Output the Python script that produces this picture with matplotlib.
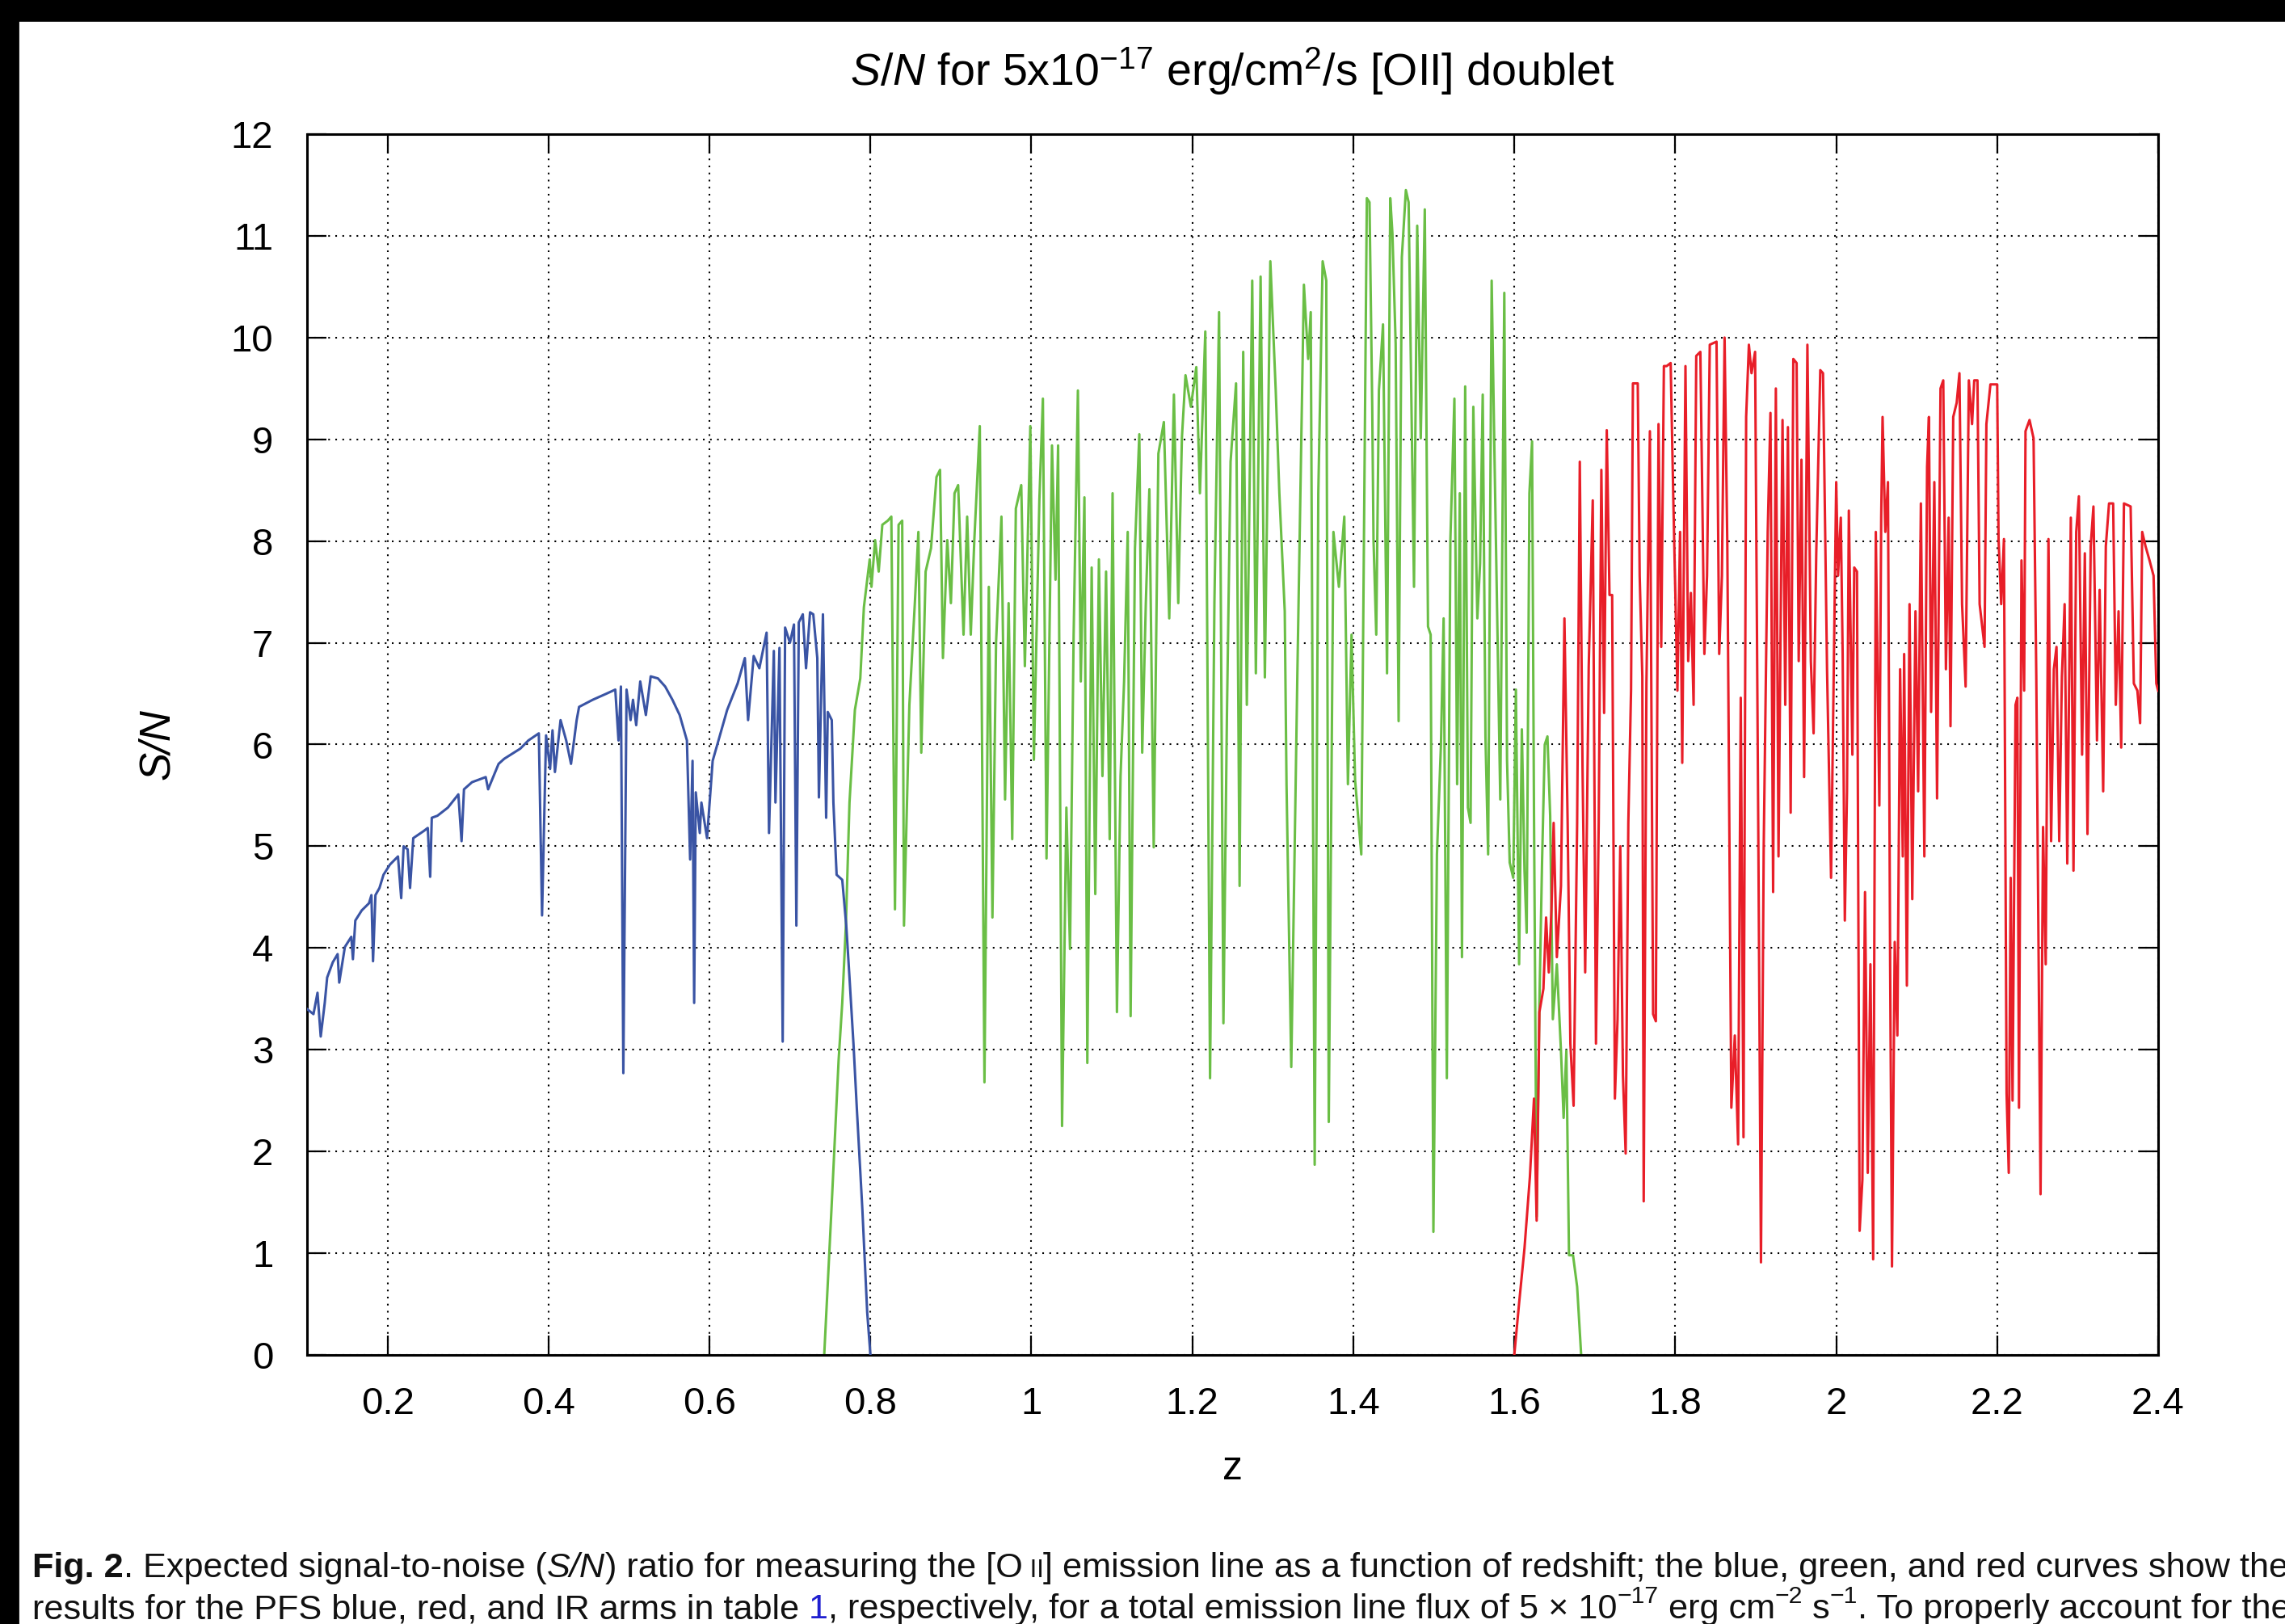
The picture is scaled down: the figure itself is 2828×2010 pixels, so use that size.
import matplotlib
matplotlib.use("Agg")
import matplotlib.pyplot as plt
from matplotlib.patches import Rectangle
from matplotlib.transforms import IdentityTransform

plt.rcParams['font.family'] = ['Liberation Sans', 'DejaVu Sans']
plt.rcParams['mathtext.fontset'] = 'custom'
plt.rcParams['mathtext.rm'] = 'Liberation Sans'
plt.rcParams['mathtext.it'] = 'Liberation Sans:italic'
plt.rcParams['mathtext.bf'] = 'Liberation Sans:bold'

# blue arm
blue_z = [0.100, 0.108, 0.113, 0.117, 0.122, 0.125, 0.132, 0.138, 0.140, 0.147,
          0.155, 0.157, 0.160, 0.168, 0.177, 0.180, 0.182, 0.185, 0.190, 0.195,
          0.203, 0.213, 0.217, 0.220, 0.225, 0.228, 0.232, 0.245, 0.250, 0.253,
          0.255, 0.262, 0.275, 0.288, 0.292, 0.295, 0.305, 0.322, 0.325, 0.338,
          0.345, 0.365, 0.375, 0.388, 0.392, 0.397, 0.402, 0.405, 0.408, 0.415,
          0.422, 0.428, 0.435, 0.438, 0.455, 0.472, 0.483, 0.487, 0.490, 0.493,
          0.497, 0.502, 0.505, 0.509, 0.514, 0.521, 0.527, 0.536, 0.545, 0.554,
          0.563, 0.572, 0.576, 0.579, 0.581, 0.583, 0.588, 0.590, 0.597, 0.604,
          0.613, 0.622, 0.635, 0.644, 0.648, 0.655, 0.662, 0.671, 0.674, 0.680,
          0.682, 0.687, 0.691, 0.694, 0.700, 0.705, 0.708, 0.711, 0.716, 0.720,
          0.725, 0.729, 0.734, 0.736, 0.741, 0.745, 0.747, 0.752, 0.754, 0.758,
          0.765, 0.770, 0.774, 0.779, 0.783, 0.790, 0.796, 0.800]
blue_sn = [3.40, 3.35, 3.56, 3.13, 3.46, 3.71, 3.86, 3.94, 3.66, 4.01,
           4.11, 3.89, 4.27, 4.37, 4.44, 4.52, 3.87, 4.52, 4.59, 4.72,
           4.82, 4.90, 4.49, 5.00, 4.97, 4.59, 5.08, 5.15, 5.18, 4.70,
           5.28, 5.30, 5.38, 5.51, 5.05, 5.56, 5.63, 5.68, 5.56, 5.81,
           5.86, 5.96, 6.04, 6.11, 4.32, 6.09, 5.76, 6.14, 5.73, 6.24,
           6.04, 5.81, 6.24, 6.37, 6.44, 6.50, 6.54, 6.04, 6.57, 2.77,
           6.54, 6.24, 6.44, 6.19, 6.62, 6.29, 6.67, 6.65, 6.57, 6.44,
           6.29, 6.04, 4.87, 5.84, 3.46, 5.53, 5.13, 5.43, 5.08, 5.84,
           6.09, 6.34, 6.60, 6.85, 6.24, 6.87, 6.75, 7.10, 5.13, 6.92,
           5.43, 6.95, 3.08, 7.15, 7.00, 7.18, 4.22, 7.20, 7.28, 6.75,
           7.30, 7.28, 6.85, 5.48, 7.28, 5.28, 6.32, 6.24, 5.43, 4.72,
           4.67, 4.22, 3.71, 3.05, 2.44, 1.43, 0.42, 0.00]

# red arm (green curve)
green_z = [0.7426, 0.7516, 0.7605, 0.7650, 0.7695, 0.7740, 0.7807, 0.7874, 0.7919, 0.7991,
           0.8013, 0.8058, 0.8103, 0.8148, 0.8215, 0.8260, 0.8305, 0.8350, 0.8395, 0.8417,
           0.8484, 0.8552, 0.8596, 0.8632, 0.8686, 0.8753, 0.8821, 0.8865, 0.8901, 0.8955,
           0.9000, 0.9045, 0.9090, 0.9157, 0.9202, 0.9247, 0.9291, 0.9359, 0.9417, 0.9471,
           0.9516, 0.9561, 0.9628, 0.9673, 0.9717, 0.9762, 0.9807, 0.9874, 0.9919, 0.9987,
           1.0031, 1.0099, 1.0143, 1.0188, 1.0256, 1.0300, 1.0332, 1.0381, 1.0435, 1.0480,
           1.0525, 1.0578, 1.0614, 1.0659, 1.0695, 1.0749, 1.0794, 1.0839, 1.0883, 1.0928,
           1.0973, 1.1009, 1.1063, 1.1108, 1.1152, 1.1197, 1.1233, 1.1287, 1.1341, 1.1377,
           1.1422, 1.1466, 1.1520, 1.1578, 1.1646, 1.1713, 1.1771, 1.1825, 1.1870, 1.1915,
           1.1982, 1.2049, 1.2094, 1.2161, 1.2220, 1.2274, 1.2332, 1.2386, 1.2430, 1.2475,
           1.2543, 1.2587, 1.2632, 1.2677, 1.2744, 1.2789, 1.2848, 1.2901, 1.2969, 1.3036,
           1.3081, 1.3148, 1.3170, 1.3229, 1.3305, 1.3386, 1.3439, 1.3471, 1.3520, 1.3565,
           1.3619, 1.3664, 1.3695, 1.3753, 1.3821, 1.3888, 1.3933, 1.3978, 1.4022, 1.4099,
           1.4168, 1.4201, 1.4235, 1.4251, 1.4285, 1.4318, 1.4369, 1.4419, 1.4459, 1.4486,
           1.4526, 1.4563, 1.4603, 1.4653, 1.4687, 1.4754, 1.4794, 1.4838, 1.4888, 1.4928,
           1.4961, 1.4995, 1.5039, 1.5089, 1.5122, 1.5162, 1.5206, 1.5256, 1.5290, 1.5323,
           1.5350, 1.5390, 1.5424, 1.5457, 1.5491, 1.5541, 1.5575, 1.5608, 1.5642, 1.5675,
           1.5719, 1.5752, 1.5792, 1.5826, 1.5876, 1.5910, 1.5943, 1.5987, 1.6020, 1.6060,
           1.6094, 1.6127, 1.6154, 1.6188, 1.6221, 1.6245, 1.6278, 1.6312, 1.6345, 1.6379,
           1.6412, 1.6446, 1.6479, 1.6529, 1.6580, 1.6613, 1.6647, 1.6680, 1.6730, 1.6781,
           1.6831]
green_sn = [0.00, 1.43, 2.90, 3.46, 4.22, 5.43, 6.34, 6.65, 7.35, 7.82,
            7.55, 8.01, 7.70, 8.16, 8.20, 8.24, 4.38, 8.16, 8.20, 4.22,
            6.39, 7.39, 8.09, 5.92, 7.70, 7.93, 8.63, 8.70, 6.85, 8.01,
            7.39, 8.47, 8.55, 7.08, 8.24, 7.08, 8.01, 9.13, 2.68, 7.55,
            4.30, 7.00, 8.24, 5.46, 7.39, 5.07, 8.32, 8.55, 6.77, 9.13,
            5.85, 8.40, 9.40, 4.88, 8.94, 7.62, 8.94, 2.25, 5.38, 3.99,
            7.08, 9.48, 6.62, 8.43, 2.87, 7.74, 4.53, 7.82, 5.69, 7.70,
            5.07, 8.47, 3.37, 5.69, 6.62, 8.09, 3.33, 7.93, 9.05, 5.92,
            7.39, 8.51, 4.99, 8.86, 9.17, 7.24, 9.44, 7.39, 9.01, 9.63,
            9.32, 9.71, 8.47, 10.06, 2.72, 7.39, 10.25, 3.26, 6.31, 8.78,
            9.55, 4.61, 9.86, 6.39, 10.56, 6.70, 10.60, 6.66, 10.75, 9.48,
            8.47, 7.31, 5.61, 2.83, 6.70, 10.52, 9.79, 10.25, 1.87, 8.47,
            10.75, 10.56, 2.29, 8.09, 7.55, 8.24, 5.61, 7.08, 5.65, 4.92,
            11.37, 11.33, 9.32, 8.01, 7.08, 9.48, 10.13, 6.70, 11.37, 11.02,
            9.94, 6.23, 10.79, 11.45, 11.33, 7.55, 11.10, 9.01, 11.26, 7.16,
            7.08, 1.21, 4.92, 6.00, 7.24, 2.72, 8.01, 9.40, 5.61, 8.47,
            3.91, 9.52, 5.38, 5.23, 9.32, 7.24, 7.78, 9.44, 6.08, 4.92,
            10.56, 8.94, 7.08, 5.46, 10.44, 5.85, 4.84, 4.69, 6.54, 3.84,
            6.15, 4.76, 4.15, 8.47, 8.98, 5.30, 1.36, 3.45, 4.84, 6.00,
            6.08, 5.30, 3.30, 3.84, 2.99, 2.33, 2.99, 0.98, 0.98, 0.67,
            0.00]

# IR arm (red curve)
red_z = [1.6000, 1.6060, 1.6127, 1.6194, 1.6245, 1.6278, 1.6312, 1.6362, 1.6395, 1.6429,
         1.6462, 1.6489, 1.6529, 1.6580, 1.6623, 1.6663, 1.6697, 1.6737, 1.6781, 1.6814,
         1.6848, 1.6881, 1.6925, 1.6975, 1.7015, 1.7049, 1.7082, 1.7116, 1.7149, 1.7183,
         1.7216, 1.7250, 1.7283, 1.7317, 1.7350, 1.7384, 1.7417, 1.7451, 1.7474, 1.7534,
         1.7558, 1.7591, 1.7608, 1.7642, 1.7685, 1.7725, 1.7759, 1.7792, 1.7826, 1.7859,
         1.7893, 1.7943, 1.7977, 1.8027, 1.8060, 1.8087, 1.8127, 1.8161, 1.8194, 1.8228,
         1.8261, 1.8312, 1.8362, 1.8395, 1.8429, 1.8513, 1.8546, 1.8580, 1.8613, 1.8647,
         1.8697, 1.8740, 1.8781, 1.8814, 1.8848, 1.8881, 1.8915, 1.8948, 1.8992, 1.9032,
         1.9065, 1.9099, 1.9149, 1.9183, 1.9216, 1.9250, 1.9283, 1.9333, 1.9367, 1.9400,
         1.9434, 1.9467, 1.9508, 1.9534, 1.9568, 1.9601, 1.9642, 1.9685, 1.9719, 1.9752,
         1.9802, 1.9836, 1.9886, 1.9936, 2.0000, 2.0023, 2.0057, 2.0080, 2.0107, 2.0134,
         2.0157, 2.0201, 2.0224, 2.0258, 2.0291, 2.0325, 2.0358, 2.0392, 2.0425, 2.0459,
         2.0492, 2.0536, 2.0559, 2.0576, 2.0610, 2.0643, 2.0670, 2.0693, 2.0727, 2.0760,
         2.0794, 2.0827, 2.0844, 2.0878, 2.0911, 2.0945, 2.0985, 2.1018, 2.1052, 2.1095,
         2.1129, 2.1152, 2.1179, 2.1219, 2.1253, 2.1296, 2.1330, 2.1363, 2.1397, 2.1420,
         2.1454, 2.1497, 2.1531, 2.1564, 2.1608, 2.1648, 2.1688, 2.1715, 2.1755, 2.1782,
         2.1843, 2.1866, 2.1916, 2.2000, 2.2017, 2.2050, 2.2084, 2.2117, 2.2144, 2.2168,
         2.2191, 2.2228, 2.2251, 2.2271, 2.2302, 2.2335, 2.2352, 2.2402, 2.2452, 2.2486,
         2.2539, 2.2570, 2.2603, 2.2637, 2.2670, 2.2704, 2.2737, 2.2771, 2.2804, 2.2838,
         2.2871, 2.2915, 2.2948, 2.2982, 2.3015, 2.3055, 2.3089, 2.3122, 2.3162, 2.3196,
         2.3240, 2.3273, 2.3317, 2.3350, 2.3390, 2.3441, 2.3474, 2.3508, 2.3541, 2.3575,
         2.3658, 2.3698, 2.3742, 2.3776, 2.3802, 2.3843, 2.3893, 2.3943, 2.3977, 2.4000]
red_sn = [0.00, 0.51, 1.05, 1.75, 2.52, 1.32, 3.37, 3.60, 4.30, 3.76,
          4.38, 5.23, 3.91, 4.61, 7.24, 5.23, 3.06, 2.45, 5.23, 8.78,
          5.77, 3.76, 6.77, 8.40, 3.06, 5.23, 8.70, 6.31, 9.09, 7.47,
          7.47, 2.52, 3.30, 5.00, 2.75, 1.98, 5.23, 6.54, 9.55, 9.55,
          7.66, 6.67, 1.51, 6.60, 9.08, 3.35, 3.28, 9.15, 6.96, 9.72,
          9.72, 9.75, 8.37, 6.53, 8.09, 5.82, 9.72, 6.82, 7.49, 6.39,
          9.82, 9.86, 6.89, 7.66, 9.93, 9.96, 6.89, 7.66, 10.00, 7.95,
          2.43, 3.14, 2.07, 6.46, 2.14, 9.22, 9.93, 9.65, 9.86, 5.12,
          0.91, 4.98, 8.09, 9.26, 4.55, 9.50, 4.90, 9.19, 6.39, 9.12,
          5.33, 9.79, 9.75, 6.82, 8.80, 5.68, 9.93, 6.82, 6.11, 7.88,
          9.68, 9.65, 6.74, 4.69, 8.58, 7.66, 8.23, 6.89, 4.27, 5.54,
          8.30, 5.90, 7.74, 7.70, 1.22, 1.72, 4.55, 1.79, 3.84, 0.94,
          8.09, 5.40, 8.23, 9.22, 8.09, 8.58, 3.84, 0.87, 4.06, 3.14,
          6.74, 4.90, 6.89, 3.63, 7.38, 4.48, 7.31, 5.54, 8.37, 4.90,
          8.73, 9.22, 6.32, 8.58, 5.47, 9.50, 9.58, 6.74, 8.23, 6.18,
          9.22, 9.36, 9.65, 7.38, 6.57, 9.58, 9.15, 9.58, 9.58, 7.38,
          6.96, 9.15, 9.54, 9.54, 8.02, 7.38, 8.02, 2.57, 1.79, 4.69,
          2.50, 6.39, 6.46, 2.43, 7.81, 6.53, 9.08, 9.19, 9.01, 6.67,
          1.58, 5.19, 3.84, 8.02, 5.05, 6.74, 6.96, 5.05, 6.67, 7.38,
          4.83, 8.23, 4.76, 8.09, 8.44, 5.90, 7.88, 5.12, 7.95, 8.34,
          6.04, 7.52, 5.54, 7.95, 8.37, 8.37, 6.39, 7.31, 5.97, 8.37,
          8.34, 6.60, 6.53, 6.21, 8.09, 7.95, 7.81, 7.66, 6.60, 6.53]

x_ticks = [0.2, 0.4, 0.6, 0.8, 1.0, 1.2, 1.4, 1.6, 1.8, 2.0, 2.2, 2.4]
x_ticklabels = ['0.2', '0.4', '0.6', '0.8', '1', '1.2', '1.4', '1.6', '1.8', '2', '2.2', '2.4']
y_ticks = list(range(0, 13))

W, H = 2828, 2010
fig = plt.figure(figsize=(W / 200, H / 200), dpi=200)
ax = fig.add_axes([380 / W, 1 - 1677 / H, (2671 - 380) / W, (1677 - 166) / H])

ax.plot(blue_z, blue_sn, color='#3a54a4', lw=1.1, zorder=3)
ax.plot(green_z, green_sn, color='#6abe45', lw=1.1, zorder=2)
ax.plot(red_z, red_sn, color='#e81e28', lw=1.1, zorder=4)

ax.set_xlim(0.1, 2.4)
ax.set_ylim(0, 12)
ax.set_xticks(x_ticks)
ax.set_xticklabels(x_ticklabels)
ax.set_yticks(y_ticks)
ax.tick_params(direction='in', length=8.5, width=0.8, top=True, right=True,
               labelsize=17, colors='black')
ax.tick_params(axis='x', pad=14)
ax.tick_params(axis='y', pad=15)
for s in ax.spines.values():
    s.set_linewidth(1.1)
ax.grid(True, color='black', linestyle=(0, (1, 3.2)), linewidth=0.75)
ax.set_axisbelow(True)

ax.set_xlabel('z', fontsize=18, va='center')
ax.xaxis.set_label_coords(0.5, (1677 - 1818) / (1677 - 166))
ax.set_ylabel('S/N', fontsize=19, style='italic', va='center')
ax.yaxis.set_label_coords((195 - 380) / (2671 - 380), 0.5)

fig.text(1525 / W, 1 - 106 / H,
         r'$\mathit{S/N}$ for 5x10$^{-17}$ erg/cm$^{2}$/s [OII] doublet',
         ha='center', va='baseline', fontsize=20)

# black scan border
fig.patches.append(Rectangle((0, 1 - 25 / H), 1, 25 / H, transform=fig.transFigure,
                             color='black', zorder=10))
fig.patches.append(Rectangle((0, 0), 22 / W, 1, transform=fig.transFigure,
                             color='black', zorder=10))

# caption, drawn run by run
line1 = [('Fig. 2', dict(weight='bold')),
         ('. Expected signal-to-noise (', {}),
         ('S/N', dict(style='italic')),
         (') ratio for measuring the [O', {}),
         (' II', dict(scale=0.72)),
         ('] emission line as a function of redshift; the blue, green, and red curves show the', {})]
line2 = [('results for the PFS blue, red, and IR arms in table', {}),
         (' 1', dict(color='#1f1fd0')),
         (', respectively, for a total emission line flux of 5 \u00d7 10', {}),
         ('\u221217', dict(scale=0.7, rise=0.45)),
         (' erg cm', {}),
         ('\u22122', dict(scale=0.7, rise=0.45)),
         (' s', {}),
         ('\u22121', dict(scale=0.7, rise=0.45)),
         ('. To properly account for the', {})]

fig.canvas.draw()
renderer = fig.canvas.get_renderer()


def put_runs(x, y, parts, size):
    made = []
    for s, kw in parts:
        kw = dict(kw)
        scale = kw.pop('scale', 1.0)
        rise = kw.pop('rise', 0.0)
        kw.setdefault('color', '#111111')
        t = fig.text(x, y + rise * size * 200 / 72, s, transform=IdentityTransform(),
                     fontsize=size * scale, ha='left', va='baseline', **kw)
        x += t.get_window_extent(renderer).width
        made.append(t)
    return x, made


x0 = 40
end, tmp = put_runs(x0, H - 1952, line1, 12)
for t in tmp:
    t.remove()
cap_size = 12 * (2836 - x0) / (end - x0)
put_runs(x0, H - 1952, line1, cap_size)
put_runs(x0, H - 2003, line2, cap_size)

fig.savefig('out.png', dpi=200)
